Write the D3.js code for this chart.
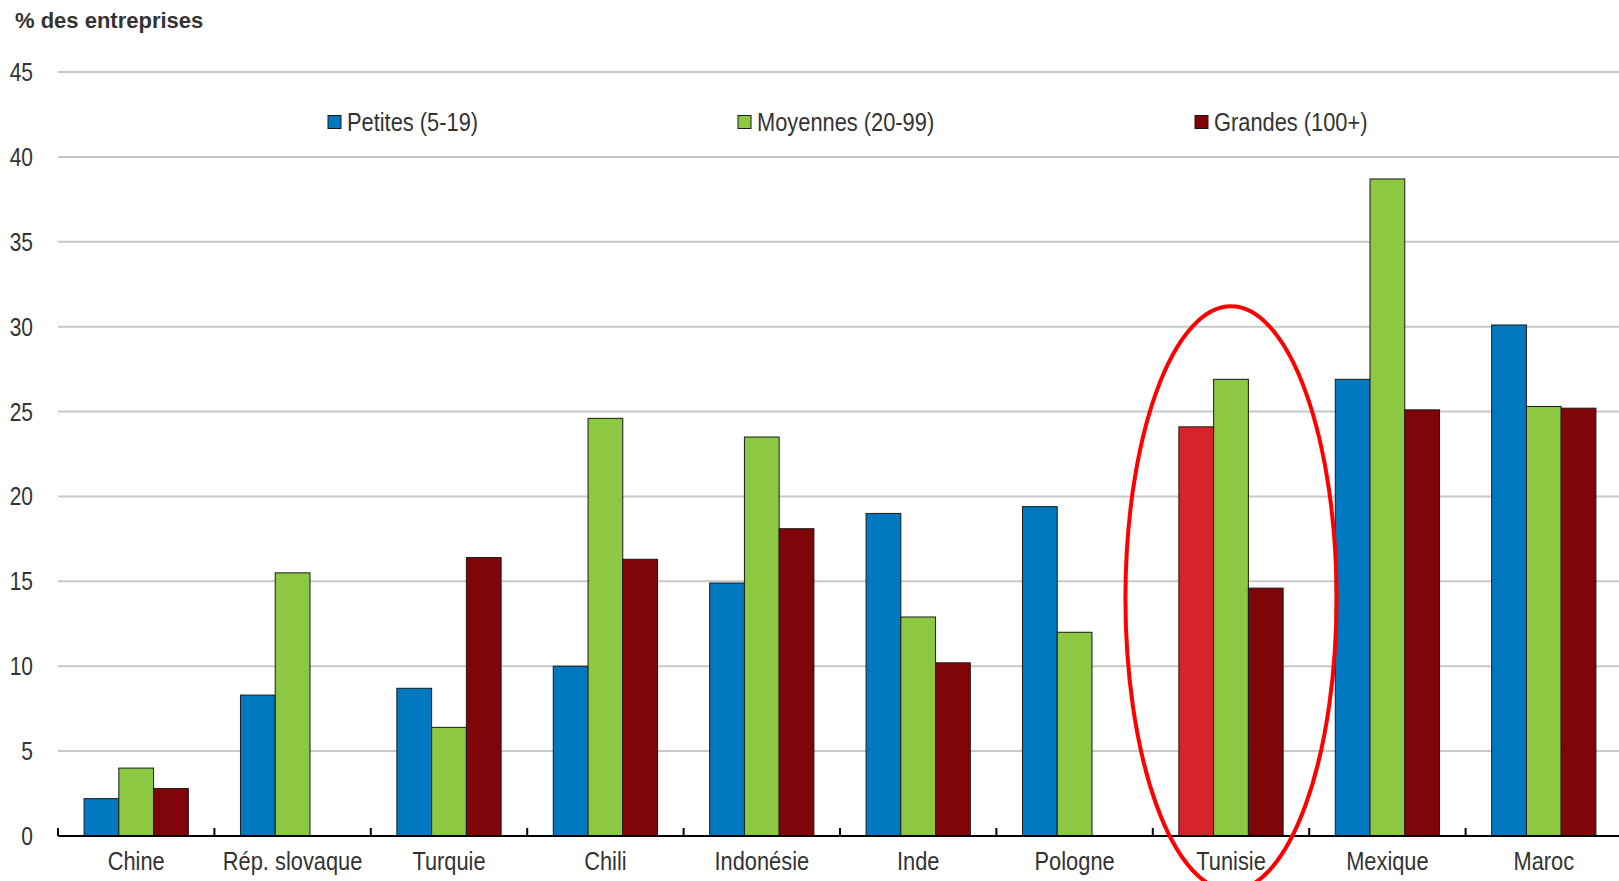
<!DOCTYPE html>
<html><head><meta charset="utf-8">
<script src="https://cdn.jsdelivr.net/npm/d3@7"></script>
<style>body{margin:0;background:#fff}svg{display:block}</style>
</head><body>
<svg id="c" width="1619" height="881"></svg>
<script>
const categories = ["Chine","Rép. slovaque","Turquie","Chili","Indonésie","Inde","Pologne","Tunisie","Mexique","Maroc"];
const petites  = [2.2, 8.3, 8.7, 10.0, 14.9, 19.0, 19.4, 24.1, 26.9, 30.1];
const moyennes = [4.0, 15.5, 6.4, 24.6, 23.5, 12.9, 12.0, 26.9, 38.7, 25.3];
const grandes  = [2.8, null, 16.4, 16.3, 18.1, 10.2, null, 14.6, 25.1, 25.2];
const seriesNames = ["Petites (5-19)","Moyennes (20-99)","Grandes (100+)"];
const seriesColors = ["#0179C0","#8CC841","#7F0508"];
const highlightCategory = "Tunisie";
const highlightColor = "#D9232A";
const yTicks = [0,5,10,15,20,25,30,35,40,45];
const yLabel = "% des entreprises";

(function(){
const svg = d3.select("#c");
const font = "'Liberation Sans',Arial,sans-serif";
const sx = 0.84; // narrow face emulation
const pl = 58, pr = 1622, pt = 72, pb = 836;

const x0 = d3.scaleBand().domain(categories).range([pl, pr]).padding(0);
const step = x0.bandwidth();
const x1 = d3.scaleBand().domain(d3.range(3)).range([step/6, step*5/6]).padding(0);
const y = d3.scaleLinear().domain([0,45]).range([pb, pt]);

svg.append("g").selectAll("line").data(yTicks.filter(t=>t>0)).join("line")
  .attr("x1", pl).attr("x2", 1619)
  .attr("y1", d=>y(d)).attr("y2", d=>y(d))
  .attr("stroke", "#C8C8C8").attr("stroke-width", 2);

svg.append("g").selectAll("text").data(yTicks).join("text")
  .attr("transform", d=>`translate(33,${y(d)}) scale(${sx},1)`)
  .attr("dy","0.36em")
  .attr("text-anchor","end")
  .attr("font-family", font).attr("font-size", 25).attr("fill","#333")
  .text(d=>d);

svg.append("text").attr("x", 15).attr("y", 28)
  .attr("font-family", font).attr("font-weight","bold")
  .attr("font-size", 22).attr("fill","#333").text(yLabel);

const series = [petites, moyennes, grandes];
const flat = [];
categories.forEach((c,i)=>series.forEach((s,j)=>{ if (s[i]!=null) flat.push({c, j, v:s[i]}); }));
svg.append("g").selectAll("rect").data(flat).join("rect")
  .attr("x", d=>x0(d.c)+x1(d.j))
  .attr("width", x1.bandwidth())
  .attr("y", d=>y(d.v))
  .attr("height", d=>y(0)-y(d.v))
  .attr("fill", d=> (d.c===highlightCategory && d.j===0) ? highlightColor : seriesColors[d.j])
  .attr("stroke", "#1a1a1a").attr("stroke-width", 1);

svg.append("line").attr("x1", pl).attr("x2", 1619).attr("y1", y(0)).attr("y2", y(0))
  .attr("stroke","#000").attr("stroke-width",2);
svg.append("g").selectAll("line").data(categories).join("line")
  .attr("x1", d=>x0(d)).attr("x2", d=>x0(d))
  .attr("y1", y(0)).attr("y2", y(0)-8)
  .attr("stroke","#000").attr("stroke-width",2);

svg.append("g").selectAll("text").data(categories).join("text")
  .attr("transform", d=>`translate(${x0(d)+step/2},870) scale(${sx},1)`)
  .attr("text-anchor","middle")
  .attr("font-family", font).attr("font-size", 26).attr("fill","#333")
  .text(d=>d);

const legendX = [328, 738, 1195];
const lg = svg.append("g").selectAll("g").data(seriesNames).join("g")
  .attr("transform", (d,i)=>`translate(${legendX[i]},122)`);
lg.append("rect").attr("x",0).attr("y",-6.5).attr("width",13).attr("height",13)
  .attr("fill",(d,i)=>seriesColors[i]).attr("stroke","#1a1a1a").attr("stroke-width",1);
lg.append("text").attr("transform", `translate(19,0) scale(${sx},1)`).attr("dy","0.36em")
  .attr("font-family", font).attr("font-size", 26).attr("fill","#333").text(d=>d);

svg.append("ellipse")
  .attr("cx", x0(highlightCategory)+step/2)
  .attr("cy", y(14.0))
  .attr("rx", step*0.675)
  .attr("ry", y(0)-y(17.2))
  .attr("fill","none").attr("stroke","#FF0000").attr("stroke-width",4);
})();
</script>
</body></html>
